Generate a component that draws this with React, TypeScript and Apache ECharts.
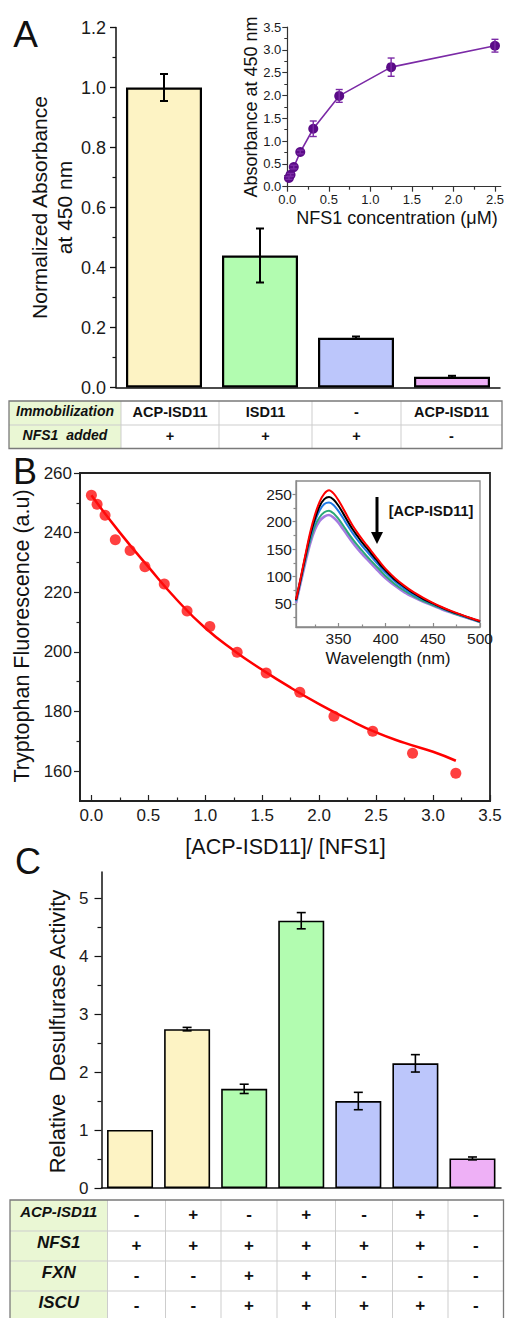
import React, { useEffect, useRef } from 'react';
import * as echarts from 'echarts';

const FONT = '"Liberation Sans", Arial, Helvetica, sans-serif';

// ---------- Panel A: bars ----------
const catsA = ['ACP-ISD11 / +NFS1', 'ISD11 / +NFS1', '- / +NFS1', 'ACP-ISD11 / -NFS1'];
const valuesA = [1.0, 0.44, 0.166, 0.036];
const errorsA = [0.045, 0.09, 0.004, 0.003];
const colorsA = ['#fdf3c4', '#b2fcb0', '#bcc6fb', '#eeb0f6'];

// ---------- Panel A inset ----------
const nfs1Conc = [0.0195, 0.039, 0.078, 0.156, 0.3125, 0.625, 1.25, 2.5];
const absorbance = [0.19, 0.26, 0.43, 0.76, 1.27, 1.99, 2.62, 3.09];
const absorbanceErr = [0.03, 0.03, 0.04, 0.04, 0.17, 0.14, 0.2, 0.14];
const insetAXTicks = [0, 0.5, 1, 1.5, 2, 2.5];
const insetAXMinor = [0.25, 0.75, 1.25, 1.75, 2.25];

// ---------- Table A ----------
const tableARowLabels = ['Immobilization', 'NFS1  added'];
const tableARows = [
  ['ACP-ISD11', 'ISD11', '-', 'ACP-ISD11'],
  ['+', '+', '+', '-'],
];

// ---------- Panel B ----------
const ratio = [0.0, 0.05, 0.12, 0.21, 0.34, 0.47, 0.64, 0.84, 1.04, 1.28, 1.535, 1.83, 2.13, 2.47, 2.82, 3.2];
const fluorescence = [252.5, 249.5, 245.8, 237.6, 234, 228.6, 222.8, 213.7, 208.5, 199.9, 192.9, 186.5, 178.4, 173.4, 166.0, 159.3];
const fitRatio = [0, 0.25, 0.5, 0.75, 1.0, 1.25, 1.5, 1.75, 2.0, 2.25, 2.5, 2.75, 3.0, 3.2];
const fitFluorescence = [252.5, 240, 228.5, 217.5, 208, 200.5, 194, 188, 182.5, 177.5, 173, 169.5, 166.5, 163.5];
const bXTicks = [0, 0.5, 1, 1.5, 2, 2.5, 3, 3.5];
const bXMinor = [0.25, 0.75, 1.25, 1.75, 2.25, 2.75, 3.25];
const bYTicks = [160, 180, 200, 220, 240, 260];
const bYMinor = [170, 190, 210, 230, 250];

// ---------- Panel B inset: spectra ----------
const wavelength = [305, 310, 315, 320, 325, 330, 335, 340, 345, 350, 355, 360, 365, 370, 375, 380, 385, 390, 395, 400, 410, 420, 430, 440, 450, 460, 470, 480, 490, 500];
const specRed = [58, 98, 140, 180, 212, 236, 251, 257, 251, 239, 224, 208, 193, 180, 168, 157, 146, 135, 124, 114, 97, 83, 71, 61, 52, 44, 37, 30.5, 24.5, 19];
const specBlack = [57, 96, 137, 175, 205, 228, 241, 245, 240, 229, 215, 200, 186, 174, 162, 152, 141, 131, 120, 111, 94, 81, 69, 59, 51, 43, 36, 30, 24, 18];
const specBlue = [56, 95, 135, 171, 200, 220, 232, 235, 230, 219, 206, 192, 179, 167, 156, 146, 136, 126, 116, 107, 91, 78, 67, 58, 50, 42, 35.5, 29.5, 23.5, 18];
const specGreen = [55, 93, 131, 165, 192, 208, 217, 220, 215, 205, 193, 180, 168, 157, 147, 137, 128, 119, 110, 101, 86, 74, 64, 55, 48, 41, 34.5, 28.5, 23, 17];
const specPurple = [52, 89, 126, 160, 185, 201, 209, 212, 207, 198, 186, 174, 162, 151, 141, 132, 123, 114, 105, 97, 83, 71, 62, 54, 47, 40, 34, 28, 22.5, 17];
const spectraColors = ['#a47ae0', '#2aa876', '#1f78e6', '#000000', '#ff0000'];
const insetBXTicks = [350, 400, 450, 500];
const insetBXMinor = [325, 375, 425, 475];
const insetBYTicks = [50, 100, 150, 200, 250];
const insetBYMinor = [25, 75, 125, 175, 225];

// ---------- Panel C ----------
const catsC = ['1', '2', '3', '4', '5', '6', '7'];
const valuesC = [1.0, 2.74, 1.71, 4.61, 1.5, 2.15, 0.51];
const errorsC = [0, 0.03, 0.08, 0.14, 0.15, 0.15, 0.025];
const colorsC = ['#fdf3c4', '#fdf3c4', '#b2fcb0', '#b2fcb0', '#bcc6fb', '#bcc6fb', '#eeb0f6'];
const cYTicks = [0, 1, 2, 3, 4, 5];
const cYMinor = [0.5, 1.5, 2.5, 3.5, 4.5];

// ---------- Table C ----------
const tableCRowLabels = ['ACP-ISD11', 'NFS1', 'FXN', 'ISCU'];
const tableCRows = [
  ['-', '+', '-', '+', '-', '+', '-'],
  ['+', '+', '+', '+', '+', '+', '-'],
  ['-', '-', '+', '+', '-', '-', '-'],
  ['-', '-', '+', '+', '+', '+', '-'],
];

function errorSeries(xi: number, yi: number, data: number[][], color: string, cap: number, lw: number) {
  return {
    type: 'custom',
    xAxisIndex: xi,
    yAxisIndex: yi,
    z: 10,
    silent: true,
    clip: false,
    data,
    encode: { x: 0, y: [1, 2] },
    renderItem: (_p: any, api: any) => {
      const x = api.value(0);
      const a = api.coord([x, api.value(2)]);
      const b = api.coord([x, api.value(1)]);
      const style = { stroke: color, lineWidth: lw };
      return {
        type: 'group',
        children: [
          { type: 'line', shape: { x1: a[0], y1: a[1], x2: b[0], y2: b[1] }, style },
          { type: 'line', shape: { x1: a[0] - cap / 2, y1: a[1], x2: a[0] + cap / 2, y2: a[1] }, style },
          { type: 'line', shape: { x1: b[0] - cap / 2, y1: b[1], x2: b[0] + cap / 2, y2: b[1] }, style },
        ],
      };
    },
  };
}

function valueAxis(o: any) {
  const lineColor = o.lineColor || '#222';
  return {
    gridIndex: o.grid,
    type: 'value',
    position: o.position,
    min: o.min,
    max: o.max,
    axisLine: { show: o.showLine !== false, onZero: false, lineStyle: { color: lineColor, width: o.lineWidth || 1.5 } },
    axisTick: o.ticks
      ? { show: true, customValues: o.ticks, length: o.tickLen, inside: !!o.inside, lineStyle: { color: lineColor, width: o.tickWidth || 1.2 } }
      : { show: false },
    axisLabel: o.labels
      ? {
          show: true,
          customValues: o.labels,
          formatter: (v: number) => v.toFixed(o.decimals || 0),
          fontSize: o.fontSize,
          margin: o.margin,
          color: '#1a1a1a',
          fontFamily: FONT,
        }
      : { show: false },
    splitLine: { show: false },
  };
}

function tableGraphics(
  colEdges: number[],
  rowEdges: number[],
  rowLabels: string[],
  rows: string[][],
  labelFonts: number[],
  valueFont: number,
  labelDy: number,
  valueDy: number
) {
  const els: any[] = [];
  const x0 = colEdges[0];
  const x1 = colEdges[colEdges.length - 1];
  const y0 = rowEdges[0];
  const y1 = rowEdges[rowEdges.length - 1];
  els.push({ type: 'rect', z: 50, shape: { x: x0, y: y0, width: x1 - x0, height: y1 - y0 }, style: { fill: '#ffffff' } });
  els.push({ type: 'rect', z: 50, shape: { x: x0, y: y0, width: colEdges[1] - x0, height: y1 - y0 }, style: { fill: '#eaf7d4' } });
  for (let i = 1; i < colEdges.length - 1; i++) {
    els.push({ type: 'line', z: 51, shape: { x1: colEdges[i], y1: y0, x2: colEdges[i], y2: y1 }, style: { stroke: '#cdcdcd', lineWidth: 1 } });
  }
  for (let j = 1; j < rowEdges.length - 1; j++) {
    els.push({ type: 'line', z: 51, shape: { x1: x0, y1: rowEdges[j], x2: x1, y2: rowEdges[j] }, style: { stroke: '#cdcdcd', lineWidth: 1 } });
  }
  els.push({ type: 'rect', z: 52, shape: { x: x0, y: y0, width: x1 - x0, height: y1 - y0 }, style: { fill: 'none', stroke: '#7a7a7a', lineWidth: 1.3 } });
  rowLabels.forEach((lab, j) => {
    const cy = (rowEdges[j] + rowEdges[j + 1]) / 2;
    els.push({
      type: 'text', z: 53,
      x: (colEdges[0] + colEdges[1]) / 2, y: cy + labelDy,
      style: { text: lab, fontFamily: FONT, fontWeight: 'bold', fontStyle: 'italic', fontSize: labelFonts[j], fill: '#111', align: 'center', verticalAlign: 'middle' },
    });
    rows[j].forEach((v, i) => {
      els.push({
        type: 'text', z: 53,
        x: (colEdges[i + 1] + colEdges[i + 2]) / 2, y: cy + valueDy,
        style: { text: v, fontFamily: FONT, fontWeight: 'bold', fontSize: valueFont, fill: '#111', align: 'center', verticalAlign: 'middle' },
      });
    });
  });
  return els;
}

function label(text: string, x: number, y: number, size: number, rotate = false, extra: any = {}) {
  return {
    type: 'text', z: 60, x, y, rotation: rotate ? Math.PI / 2 : 0,
    style: { text, fontFamily: FONT, fontSize: size, fill: '#111', align: 'center', verticalAlign: 'middle', ...extra },
  };
}

export default function App() {
  const ref = useRef<HTMLDivElement>(null);

  useEffect(() => {
    document.body.style.margin = '0';
    if (!ref.current) return;
    const chart = echarts.init(ref.current, undefined, { renderer: 'svg' });

    const specs = [specPurple, specGreen, specBlue, specBlack, specRed];

    const option: any = {
      animation: false,
      backgroundColor: '#ffffff',
      grid: [
        { left: 116, top: 27.5, width: 384, height: 360, show: false },
        { left: 287.3, top: 27, width: 215.7, height: 159.7, show: false },
        { left: 80, top: 473, width: 410, height: 328, show: true, borderColor: '#222', borderWidth: 1.8, backgroundColor: 'transparent' },
        { left: 296, top: 481, width: 184, height: 146, show: true, borderColor: '#8a8a8a', borderWidth: 1.3, backgroundColor: '#ffffff' },
        { left: 101.5, top: 872, width: 399.5, height: 316, show: false },
      ],
      xAxis: [
        {
          gridIndex: 0, type: 'category', data: catsA,
          axisLine: { show: true, onZero: false, lineStyle: { color: '#111', width: 1.5 } },
          axisTick: { show: false }, axisLabel: { show: false }, splitLine: { show: false },
        },
        valueAxis({ grid: 1, position: 'bottom', min: 0, max: 2.57, ticks: insetAXTicks, labels: insetAXTicks, tickLen: 5, decimals: 1, fontSize: 13, margin: 6, lineColor: '#333', lineWidth: 1.2 }),
        valueAxis({ grid: 1, position: 'bottom', min: 0, max: 2.57, ticks: insetAXMinor, tickLen: 3, showLine: false, lineColor: '#333' }),
        valueAxis({ grid: 2, position: 'bottom', min: -0.1, max: 3.5, ticks: bXTicks, labels: bXTicks, tickLen: 6, inside: true, decimals: 1, fontSize: 17, margin: 6, lineWidth: 1.8 }),
        valueAxis({ grid: 2, position: 'bottom', min: -0.1, max: 3.5, ticks: bXMinor, tickLen: 3.5, inside: true, showLine: false }),
        valueAxis({ grid: 3, position: 'bottom', min: 305, max: 500, ticks: insetBXTicks, labels: insetBXTicks, tickLen: 4, inside: true, fontSize: 15.5, margin: 3, lineColor: '#8a8a8a', lineWidth: 1.3 }),
        valueAxis({ grid: 3, position: 'bottom', min: 305, max: 500, ticks: insetBXMinor, tickLen: 2.5, inside: true, showLine: false, lineColor: '#8a8a8a' }),
        {
          gridIndex: 4, type: 'category', data: catsC,
          axisLine: { show: true, onZero: false, lineStyle: { color: '#111', width: 1.5 } },
          axisTick: { show: false }, axisLabel: { show: false }, splitLine: { show: false },
        },
      ],
      yAxis: [
        {
          gridIndex: 0, type: 'value', min: 0, max: 1.2, interval: 0.2,
          axisLine: { show: true, onZero: false, lineStyle: { color: '#111', width: 1.5 } },
          axisTick: { show: true, length: 6, lineStyle: { color: '#111', width: 1.3 } },
          minorTick: { show: true, splitNumber: 2, length: 3.5, lineStyle: { color: '#111', width: 1.2 } },
          axisLabel: { fontSize: 18, margin: 10, color: '#1a1a1a', fontFamily: FONT, formatter: (v: number) => v.toFixed(1) },
          splitLine: { show: false },
        },
        {
          gridIndex: 1, type: 'value', min: 0, max: 3.5, interval: 0.5,
          axisLine: { show: true, onZero: false, lineStyle: { color: '#333', width: 1.2 } },
          axisTick: { show: true, length: 5, lineStyle: { color: '#333', width: 1.1 } },
          minorTick: { show: true, splitNumber: 2, length: 3, lineStyle: { color: '#333', width: 1 } },
          axisLabel: { fontSize: 13, margin: 6, color: '#1a1a1a', fontFamily: FONT, formatter: (v: number) => v.toFixed(1) },
          splitLine: { show: false },
        },
        valueAxis({ grid: 2, position: 'left', min: 150, max: 260, ticks: bYTicks, labels: bYTicks, tickLen: 6, fontSize: 17, margin: 8, lineWidth: 1.8 }),
        valueAxis({ grid: 2, position: 'left', min: 150, max: 260, ticks: bYMinor, tickLen: 3.5, showLine: false }),
        valueAxis({ grid: 3, position: 'left', min: 8, max: 274, ticks: insetBYTicks, labels: insetBYTicks, tickLen: 3.5, fontSize: 15.5, margin: 4, lineColor: '#8a8a8a', lineWidth: 1.3 }),
        valueAxis({ grid: 3, position: 'left', min: 8, max: 274, ticks: insetBYMinor, tickLen: 2.5, showLine: false, lineColor: '#8a8a8a' }),
        valueAxis({ grid: 4, position: 'left', min: 0, max: 5.45, ticks: cYTicks, labels: cYTicks, tickLen: 7, fontSize: 17, margin: 13, lineColor: '#111', lineWidth: 1.5 }),
        valueAxis({ grid: 4, position: 'left', min: 0, max: 5.45, ticks: cYMinor, tickLen: 4, showLine: false, lineColor: '#111' }),
      ],
      series: [
        {
          type: 'bar', xAxisIndex: 0, yAxisIndex: 0, barWidth: 76,
          data: valuesA.map((v, i) => ({ value: v, itemStyle: { color: colorsA[i], borderColor: '#000', borderWidth: 2.2 } })),
        },
        errorSeries(0, 0, valuesA.map((v, i) => [i, v - errorsA[i], v + errorsA[i]]), '#000', 8, 2),
        {
          type: 'line', xAxisIndex: 1, yAxisIndex: 1, z: 5,
          data: nfs1Conc.map((c, i) => [c, absorbance[i]]),
          symbol: 'circle', symbolSize: 10,
          itemStyle: { color: '#5a0b87' },
          lineStyle: { color: '#7b2aa6', width: 1.6 },
        },
        errorSeries(1, 1, nfs1Conc.map((c, i) => [c, absorbance[i] - absorbanceErr[i], absorbance[i] + absorbanceErr[i]]), '#7b2aa6', 7, 1.4),
        {
          type: 'line', xAxisIndex: 3, yAxisIndex: 2, z: 3, smooth: true, showSymbol: false,
          data: fitRatio.map((x, i) => [x, fitFluorescence[i]]),
          lineStyle: { color: '#ff0000', width: 2.5 },
        },
        {
          type: 'scatter', xAxisIndex: 3, yAxisIndex: 2, z: 4,
          data: ratio.map((x, i) => [x, fluorescence[i]]),
          symbol: 'circle', symbolSize: 11,
          itemStyle: { color: '#ff1010' },
        },
        ...specs.map((s, k) => ({
          type: 'line', xAxisIndex: 5, yAxisIndex: 4, z: 5 + k, smooth: 0.3, showSymbol: false,
          data: wavelength.map((w, i) => [w, s[i]]),
          lineStyle: { color: spectraColors[k], width: k === 0 ? 2.6 : 2 },
        })),
        {
          type: 'bar', xAxisIndex: 7, yAxisIndex: 6, barWidth: 46,
          data: valuesC.map((v, i) => ({ value: v, itemStyle: { color: colorsC[i], borderColor: '#000', borderWidth: 1.6 } })),
        },
        errorSeries(
          7, 6,
          valuesC.map((v, i) => [i, v - errorsC[i], v + errorsC[i], errorsC[i]]).filter((d) => d[3] > 0),
          '#000', 9, 1.6
        ),
      ],
      graphic: [
        label('A', 25.5, 34, 37),
        label('B', 25, 471, 36),
        label('C', 28, 861, 36),
        label('Normalized Absorbance', 39, 207.5, 21, true),
        label('at 450 nm', 64, 207.5, 21, true),
        label('Absorbance at 450 nm', 251, 107, 18, true),
        label('NFS1 concentration (\u03bcM)', 397, 218, 18),
        label('Tryptophan Fluorescence (a.u)', 22, 636, 21.5, true),
        label('[ACP-ISD11]/ [NFS1]', 285.5, 847, 21.5),
        label('Wavelength (nm)', 388, 658, 16.5),
        label('[ACP-ISD11]', 431, 511, 14.5, false, { fontWeight: 'bold' }),
        { type: 'line', z: 60, shape: { x1: 377, y1: 497, x2: 377, y2: 535 }, style: { stroke: '#000', lineWidth: 3 } },
        { type: 'polygon', z: 60, shape: { points: [[371, 532], [383, 532], [377, 544]] }, style: { fill: '#000' } },
        label('Relative  Desulfurase Activity', 57.5, 1031.5, 22, true),
        ...tableGraphics([9, 121, 219, 312, 401, 502], [401, 425, 448.5], tableARowLabels, tableARows, [14, 14], 14.5, -2, -1),
        ...tableGraphics(
          [10, 107.5, 165.5, 221, 277, 335.5, 392.5, 448, 503.5],
          [1200, 1231, 1261, 1291, 1321],
          tableCRowLabels, tableCRows, [15, 17, 17, 17], 17, -4, -1
        ),
      ],
    };

    chart.setOption(option);
    return () => chart.dispose();
  }, []);

  return (
    <div
      ref={ref}
      style={{ position: 'absolute', left: 0, top: 0, width: 507, height: 1318, background: '#fff' }}
    />
  );
}
